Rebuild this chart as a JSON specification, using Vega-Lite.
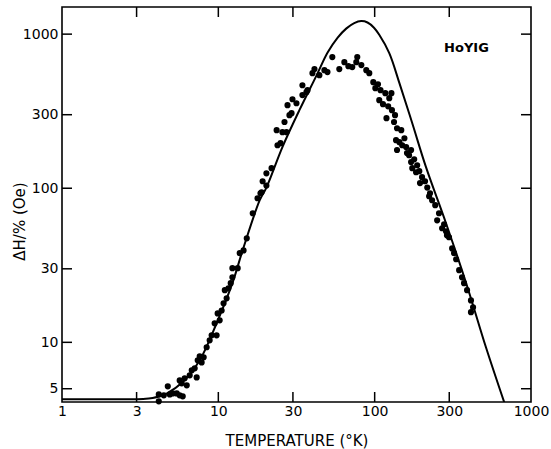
{
  "$schema": "https://vega.github.io/schema/vega-lite/v6.json",
  "width": 469,
  "height": 395,
  "autosize": {"type": "none"},
  "padding": {"left": 62, "top": 7, "right": 20, "bottom": 47},
  "background": "white",
  "config": {
    "view": {"stroke": "black", "strokeWidth": 1.6},
    "axis": {
      "labelFont": "DejaVu Sans",
      "labelFontSize": 14,
      "labelColor": "black",
      "titleFont": "DejaVu Sans",
      "titleFontSize": 15,
      "titleFontWeight": "normal",
      "titleColor": "black",
      "domain": false,
      "grid": false,
      "ticks": false,
      "labelFlush": false,
      "labelOverlap": false
    }
  },
  "datasets": {
    "pts": [
      {"T": 4.16, "V": 4.14}, {"T": 4.16, "V": 4.59}, {"T": 4.48, "V": 4.53}, {"T": 4.75, "V": 5.18},
      {"T": 4.89, "V": 4.59}, {"T": 5.11, "V": 4.66}, {"T": 5.42, "V": 4.66}, {"T": 5.66, "V": 4.53},
      {"T": 5.92, "V": 4.46}, {"T": 5.83, "V": 5.42}, {"T": 6.28, "V": 5.26}, {"T": 5.66, "V": 5.66},
      {"T": 6.09, "V": 5.84}, {"T": 6.56, "V": 6.11}, {"T": 6.76, "V": 6.58}, {"T": 7.27, "V": 5.92},
      {"T": 7.06, "V": 6.78}, {"T": 7.38, "V": 7.64}, {"T": 7.82, "V": 7.41}, {"T": 7.6, "V": 8.12},
      {"T": 8.06, "V": 8.0}, {"T": 8.42, "V": 9.29}, {"T": 8.8, "V": 10.3}, {"T": 9.06, "V": 11.1},
      {"T": 9.75, "V": 11.1}, {"T": 9.47, "V": 13.3}, {"T": 10.2, "V": 13.9}, {"T": 9.9, "V": 15.4},
      {"T": 10.5, "V": 16.1}, {"T": 10.8, "V": 17.9}, {"T": 11.3, "V": 19.3}, {"T": 11.0, "V": 21.8},
      {"T": 11.6, "V": 22.4}, {"T": 12.0, "V": 24.2}, {"T": 12.3, "V": 26.4}, {"T": 12.3, "V": 30.3},
      {"T": 13.3, "V": 30.3}, {"T": 13.7, "V": 37.9}, {"T": 14.5, "V": 39.5}, {"T": 15.2, "V": 47.3},
      {"T": 16.6, "V": 68.8}, {"T": 17.8, "V": 86.1}, {"T": 18.6, "V": 92.8}, {"T": 18.9, "V": 94.2},
      {"T": 19.2, "V": 111}, {"T": 20.3, "V": 104}, {"T": 20.3, "V": 125}, {"T": 21.9, "V": 135},
      {"T": 23.9, "V": 190}, {"T": 25.0, "V": 196}, {"T": 23.6, "V": 238}, {"T": 27.3, "V": 231},
      {"T": 25.7, "V": 231}, {"T": 26.5, "V": 269}, {"T": 28.5, "V": 298}, {"T": 29.4, "V": 307},
      {"T": 27.7, "V": 346}, {"T": 29.8, "V": 378}, {"T": 31.6, "V": 356}, {"T": 34.5, "V": 466},
      {"T": 36.6, "V": 420}, {"T": 37.2, "V": 433}, {"T": 34.5, "V": 402}, {"T": 41.2, "V": 593},
      {"T": 40.0, "V": 558}, {"T": 44.3, "V": 542}, {"T": 47.7, "V": 584}, {"T": 49.9, "V": 567},
      {"T": 53.6, "V": 710}, {"T": 59.4, "V": 593}, {"T": 64.0, "V": 658}, {"T": 67.9, "V": 620},
      {"T": 71.9, "V": 611}, {"T": 76.3, "V": 658}, {"T": 77.4, "V": 710}, {"T": 82.2, "V": 630},
      {"T": 88.4, "V": 584}, {"T": 92.4, "V": 558}, {"T": 98.0, "V": 488}, {"T": 101, "V": 446},
      {"T": 105, "V": 473}, {"T": 109, "V": 433}, {"T": 117, "V": 414}, {"T": 128, "V": 414},
      {"T": 107, "V": 373}, {"T": 113, "V": 351}, {"T": 124, "V": 384}, {"T": 122, "V": 340},
      {"T": 129, "V": 321}, {"T": 119, "V": 285}, {"T": 135, "V": 298}, {"T": 133, "V": 269},
      {"T": 139, "V": 245}, {"T": 137, "V": 205}, {"T": 139, "V": 177}, {"T": 148, "V": 238},
      {"T": 144, "V": 199}, {"T": 155, "V": 211}, {"T": 150, "V": 190}, {"T": 159, "V": 185},
      {"T": 161, "V": 169}, {"T": 166, "V": 164}, {"T": 171, "V": 177}, {"T": 171, "V": 148},
      {"T": 179, "V": 154}, {"T": 187, "V": 141}, {"T": 174, "V": 135}, {"T": 184, "V": 127},
      {"T": 193, "V": 129}, {"T": 195, "V": 108}, {"T": 201, "V": 118}, {"T": 210, "V": 111},
      {"T": 217, "V": 101}, {"T": 223, "V": 88.7}, {"T": 226, "V": 92.8}, {"T": 233, "V": 83.6},
      {"T": 244, "V": 77.6}, {"T": 251, "V": 61.9}, {"T": 258, "V": 68.8}, {"T": 270, "V": 55.0},
      {"T": 278, "V": 58.4}, {"T": 286, "V": 52.6}, {"T": 290, "V": 49.5}, {"T": 299, "V": 48.1},
      {"T": 313, "V": 40.7}, {"T": 322, "V": 37.9}, {"T": 332, "V": 34.6}, {"T": 347, "V": 29.4},
      {"T": 362, "V": 26.4}, {"T": 373, "V": 24.2}, {"T": 390, "V": 21.8}, {"T": 413, "V": 18.7},
      {"T": 426, "V": 16.9}, {"T": 413, "V": 15.7}
    ],
    "curve": [
      {"T": 1, "V": 4.27}, {"T": 2.5, "V": 4.27}, {"T": 3.3, "V": 4.29}, {"T": 3.8, "V": 4.35},
      {"T": 4.3, "V": 4.5}, {"T": 4.7, "V": 4.67}, {"T": 5.9, "V": 5.5}, {"T": 7.6, "V": 7.64},
      {"T": 9.75, "V": 13.3}, {"T": 12.3, "V": 24.2}, {"T": 14.3, "V": 39.5}, {"T": 18.4, "V": 83.6},
      {"T": 20.3, "V": 101}, {"T": 25.7, "V": 185}, {"T": 33.0, "V": 321}, {"T": 42.5, "V": 540},
      {"T": 50, "V": 760}, {"T": 58, "V": 950}, {"T": 66, "V": 1090}, {"T": 74, "V": 1180},
      {"T": 82, "V": 1215}, {"T": 90, "V": 1190}, {"T": 99, "V": 1100},
      {"T": 107, "V": 990}, {"T": 124, "V": 753}, {"T": 144, "V": 481}, {"T": 174, "V": 264},
      {"T": 213, "V": 137}, {"T": 286, "V": 59.3}, {"T": 385, "V": 24.2}, {"T": 515, "V": 9.29},
      {"T": 700, "V": 3.65}
    ],
    "xticks": [{"T": 3}, {"T": 10}, {"T": 30}, {"T": 100}, {"T": 300}],
    "yticks": [{"V": 5}, {"V": 10}, {"V": 30}, {"V": 100}, {"V": 300}, {"V": 1000}],
    "note": [{"label": "HoYIG", "T": 278, "V": 817}]
  },
  "layer": [
    {
      "data": {"name": "pts"},
      "mark": {"type": "point", "filled": true, "shape": "circle", "size": 38, "color": "black", "opacity": 1},
      "encoding": {
        "x": {
          "field": "T", "type": "quantitative",
          "scale": {"type": "log", "domain": [1, 1000], "nice": false},
          "axis": {
            "orient": "bottom",
            "values": [1, 3, 10, 30, 100, 300, 1000],
            "format": "d",
            "labelPadding": 2,
            "title": "TEMPERATURE (°K)",
            "titleY": 43,
            "titleBaseline": "alphabetic"
          }
        },
        "y": {
          "field": "V", "type": "quantitative",
          "scale": {"type": "log", "domain": [4.1, 1500], "nice": false},
          "axis": {
            "orient": "left",
            "values": [5, 10, 30, 100, 300, 1000],
            "format": "d",
            "labelPadding": 4,
            "title": "ΔH/% (Oe)",
            "titleX": -43,
            "titleY": 214,
            "titleBaseline": "middle"
          }
        }
      }
    },
    {
      "data": {"name": "curve"},
      "mark": {"type": "line", "color": "black", "strokeWidth": 2, "interpolate": "catmull-rom", "clip": true},
      "encoding": {
        "x": {"field": "T", "type": "quantitative"},
        "y": {"field": "V", "type": "quantitative"}
      }
    },
    {
      "data": {"name": "xticks"},
      "mark": {"type": "tick", "orient": "vertical", "size": 20, "thickness": 1.5, "color": "black", "opacity": 1, "clip": true},
      "encoding": {
        "x": {"field": "T", "type": "quantitative"},
        "y": {"datum": 4.1, "type": "quantitative"}
      }
    },
    {
      "data": {"name": "xticks"},
      "mark": {"type": "tick", "orient": "vertical", "size": 20, "thickness": 1.5, "color": "black", "opacity": 1, "clip": true},
      "encoding": {
        "x": {"field": "T", "type": "quantitative"},
        "y": {"datum": 1500, "type": "quantitative"}
      }
    },
    {
      "data": {"name": "yticks"},
      "mark": {"type": "tick", "orient": "horizontal", "size": 20, "thickness": 1.5, "color": "black", "opacity": 1, "clip": true},
      "encoding": {
        "y": {"field": "V", "type": "quantitative"},
        "x": {"datum": 1, "type": "quantitative"}
      }
    },
    {
      "data": {"name": "yticks"},
      "mark": {"type": "tick", "orient": "horizontal", "size": 20, "thickness": 1.5, "color": "black", "opacity": 1, "clip": true},
      "encoding": {
        "y": {"field": "V", "type": "quantitative"},
        "x": {"datum": 1000, "type": "quantitative"}
      }
    },
    {
      "data": {"name": "note"},
      "mark": {"type": "text", "align": "left", "baseline": "middle", "font": "DejaVu Sans", "fontSize": 13, "fontWeight": "bold", "color": "black"},
      "encoding": {
        "x": {"field": "T", "type": "quantitative"},
        "y": {"field": "V", "type": "quantitative"},
        "text": {"field": "label"}
      }
    }
  ]
}
